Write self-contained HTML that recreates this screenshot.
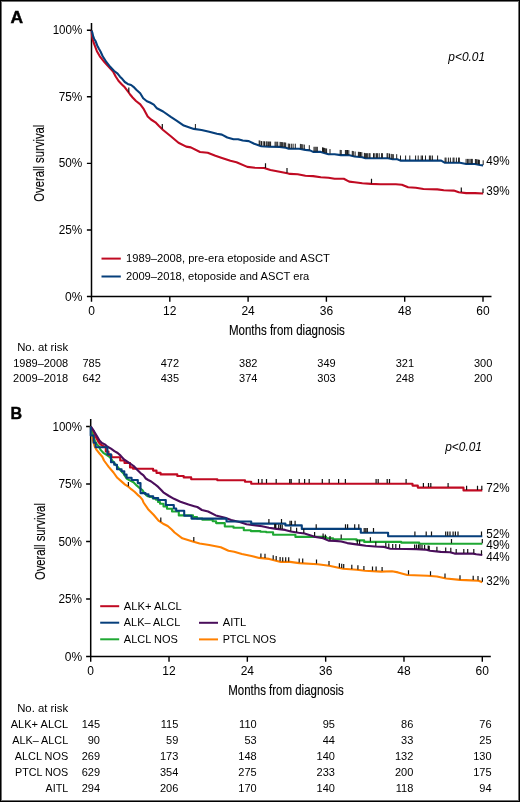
<!DOCTYPE html>
<html><head><meta charset="utf-8"><style>
html,body{margin:0;padding:0;background:#fff;}
#f{position:relative;width:520px;height:802px;box-sizing:border-box;border:1px solid #000;box-shadow:inset 0 0 0 1px #707070;overflow:hidden;background:#fff;}
svg{position:absolute;left:-1px;top:-1px;will-change:transform;}
text{font-family:"Liberation Sans",sans-serif;fill:#000;}
.th{stroke:#000;stroke-width:0.15px;}
</style></head><body><div id="f"><svg width="520" height="802" viewBox="0 0 520 802">
<path d="M91.5,23.0 V296.5 H491.5" fill="none" stroke="#000" stroke-width="1.5"/>
<path d="M91.50,296.5 v5.2 M169.80,296.5 v5.2 M248.10,296.5 v5.2 M326.40,296.5 v5.2 M404.70,296.5 v5.2 M483.00,296.5 v5.2 M91.5,296.50 h-4.6 M91.5,229.94 h-4.6 M91.5,163.38 h-4.6 M91.5,96.81 h-4.6 M91.5,30.25 h-4.6 " fill="none" stroke="#000" stroke-width="1.4"/>
<path d="M91.6,30.6 L92.0,35.5 L92.7,39.5 L93.6,42.5 L94.9,45.8 L96.9,51.2 L99.8,56.3 L104.6,62.3 L109.4,67.6 L113.3,71.9 L115.7,76.5 L118.6,81.0 L121.9,84.4 L124.8,87.3 L127.7,91.2 L130.1,94.5 L132.6,97.5 L136.0,101.0 L140.3,104.4 L143.8,109.2 L147.7,116.4 L151.0,119.5 L155.4,122.3 L159.0,126.0 L163.1,130.0 L170.8,136.2 L178.5,142.8 L186.2,146.6 L190.8,147.4 L200.0,152.0 L207.7,152.8 L215.4,155.8 L221.2,157.7 L230.4,160.8 L236.5,162.3 L247.3,166.9 L255.0,167.7 L264.2,168.0 L270.4,170.0 L279.6,171.8 L287.3,173.3 L290.0,173.9 L297.7,174.2 L305.4,175.8 L313.1,176.1 L320.8,177.3 L328.5,177.8 L334.6,178.8 L343.8,178.8 L349.2,181.6 L354.6,182.2 L362.3,183.2 L371.2,183.9 L380.4,184.2 L395.8,184.2 L401.9,184.7 L408.1,187.3 L415.8,187.8 L423.5,189.0 L437.3,189.4 L443.8,190.2 L453.8,190.6 L458.8,192.2 L466.2,193.1 L475.0,193.1 L483.2,193.5" fill="none" stroke="#c00a22" stroke-width="2.1" stroke-linejoin="round" />
<path d="M91.6,30.6 L92.3,32.5 L93.2,36.5 L94.2,39.0 L95.5,41.0 L97.2,45.4 L98.8,48.5 L100.5,51.5 L102.7,56.3 L106.5,62.2 L110.4,67.1 L114.2,71.0 L117.6,73.6 L120.0,76.7 L122.4,79.1 L124.8,82.0 L127.7,83.9 L131.1,85.0 L133.5,86.8 L136.3,89.7 L140.2,93.2 L143.2,98.2 L146.9,101.3 L150.0,102.5 L153.8,104.6 L156.9,108.3 L163.1,111.5 L170.8,116.9 L176.9,120.8 L183.8,125.6 L193.8,128.9 L201.5,130.0 L209.2,131.8 L216.9,133.8 L221.9,134.6 L227.3,137.5 L233.5,139.2 L238.1,139.2 L242.7,140.5 L248.8,141.1 L254.2,143.8 L261.2,146.2 L268.8,146.6 L279.6,146.9 L285.8,147.7 L288.8,148.8 L299.2,148.8 L305.4,149.9 L310.0,150.4 L313.1,151.9 L320.8,151.9 L328.5,154.2 L334.6,154.2 L340.8,155.1 L348.5,155.1 L354.6,156.5 L362.3,157.3 L365.4,158.3 L388.1,158.3 L392.7,159.3 L397.3,159.3 L400.4,160.6 L441.2,160.6 L445.0,162.8 L460.0,162.8 L466.2,164.0 L475.0,164.0 L480.0,165.0 L483.1,165.4" fill="none" stroke="#063f7b" stroke-width="2.1" stroke-linejoin="round" />
<path d="M128.8,92.2 v-4.6 M162.3,128.7 v-4.6 M265.5,167.9 v-4.6 M287.0,172.7 v-4.6 M371.5,183.4 v-4.6 M461.3,192.0 v-4.6 M483.0,193.0 v-4.6 " fill="none" stroke="#111" stroke-width="1.2"/>
<path d="M195.4,128.6 v-4.6 M259.2,145.0 v-4.6 M260.0,145.3 v-4.6 M261.5,145.7 v-4.6 M263.2,145.8 v-4.6 M264.5,145.9 v-4.6 M266.2,146.0 v-4.6 M267.1,146.0 v-4.6 M268.4,146.1 v-4.6 M269.7,146.1 v-4.6 M270.6,146.2 v-4.6 M275.1,146.3 v-4.6 M276.2,146.3 v-4.6 M277.7,146.3 v-4.6 M280.1,146.5 v-4.6 M281.0,146.6 v-4.6 M281.8,146.7 v-4.6 M282.7,146.8 v-4.6 M284.0,147.0 v-4.6 M284.8,147.1 v-4.6 M285.7,147.2 v-4.6 M288.3,148.1 v-4.6 M289.6,148.3 v-4.6 M291.3,148.3 v-4.6 M293.1,148.3 v-4.6 M295.3,148.3 v-4.6 M300.4,148.5 v-4.6 M301.7,148.7 v-4.6 M302.8,148.9 v-4.6 M304.3,149.2 v-4.6 M309.3,149.8 v-4.6 M314.0,151.4 v-4.6 M315.1,151.4 v-4.6 M316.2,151.4 v-4.6 M317.3,151.4 v-4.6 M322.5,151.9 v-4.6 M323.5,152.2 v-4.6 M324.6,152.5 v-4.6 M325.7,152.9 v-4.6 M326.6,153.1 v-4.6 M330.0,153.7 v-4.6 M340.2,154.5 v-4.6 M341.2,154.6 v-4.6 M345.4,154.6 v-4.6 M346.4,154.6 v-4.6 M347.5,154.6 v-4.6 M348.8,154.7 v-4.6 M352.3,155.5 v-4.6 M353.3,155.7 v-4.6 M355.1,156.1 v-4.6 M358.4,156.4 v-4.6 M359.4,156.5 v-4.6 M360.5,156.6 v-4.6 M361.8,156.7 v-4.6 M364.4,157.5 v-4.6 M365.4,157.8 v-4.6 M366.6,157.8 v-4.6 M367.7,157.8 v-4.6 M369.2,157.8 v-4.6 M370.0,157.8 v-4.6 M373.5,157.8 v-4.6 M374.8,157.8 v-4.6 M376.4,157.8 v-4.6 M377.4,157.8 v-4.6 M379.2,157.8 v-4.6 M381.6,157.8 v-4.6 M382.4,157.8 v-4.6 M387.1,157.8 v-4.6 M387.9,157.8 v-4.6 M389.5,158.1 v-4.6 M391.2,158.5 v-4.6 M392.2,158.7 v-4.6 M393.3,158.8 v-4.6 M396.7,158.8 v-4.6 M400.5,160.1 v-4.6 M405.6,160.1 v-4.6 M409.8,160.1 v-4.6 M415.6,160.1 v-4.6 M418.2,160.1 v-4.6 M421.2,160.1 v-4.6 M422.5,160.1 v-4.6 M425.5,160.1 v-4.6 M429.4,160.1 v-4.6 M430.7,160.1 v-4.6 M432.4,160.1 v-4.6 M437.6,160.1 v-4.6 M445.1,162.2 v-4.6 M446.0,162.2 v-4.6 M448.4,162.2 v-4.6 M450.4,162.2 v-4.6 M453.1,162.2 v-4.6 M454.0,162.2 v-4.6 M456.4,162.2 v-4.6 M458.6,162.2 v-4.6 M459.3,162.2 v-4.6 M466.1,163.5 v-4.6 M467.6,163.5 v-4.6 M468.8,163.5 v-4.6 M470.1,163.5 v-4.6 M471.4,163.5 v-4.6 M472.3,163.5 v-4.6 M475.4,163.6 v-4.6 M476.3,163.8 v-4.6 M477.2,163.9 v-4.6 M478.5,164.2 v-4.6 M479.4,164.4 v-4.6 M483.2,164.9 v-4.6 " fill="none" stroke="#111" stroke-width="0.95"/>
<path d="M90.7,419.0 V656.5 H490.8" fill="none" stroke="#000" stroke-width="1.5"/>
<path d="M90.70,656.5 v5.2 M169.02,656.5 v5.2 M247.34,656.5 v5.2 M325.66,656.5 v5.2 M403.98,656.5 v5.2 M482.30,656.5 v5.2 M90.7,656.50 h-4.6 M90.7,599.00 h-4.6 M90.7,541.50 h-4.6 M90.7,484.00 h-4.6 M90.7,426.50 h-4.6 " fill="none" stroke="#000" stroke-width="1.4"/>
<path d="M90.7,426.5 L91.3,432.6 L92.7,439.3 L94.7,446.5 L96.6,449.9 L99.5,453.5 L102.3,456.8 L104.0,460.5 L106.2,463.5 L108.7,466.9 L113.5,472.5 L117.3,477.8 L122.0,481.9 L125.1,484.6 L128.2,486.5 L131.2,489.2 L134.3,491.5 L137.4,494.6 L140.5,497.3 L142.4,499.6 L143.5,502.5 L148.1,509.2 L153.8,515.0 L158.5,520.6 L163.1,523.7 L167.7,526.0 L171.7,529.5 L174.6,532.5 L182.3,538.3 L191.9,541.2 L199.6,543.5 L209.2,545.0 L220.8,547.3 L228.5,550.8 L234.2,551.7 L241.9,554.0 L251.5,556.0 L259.2,557.9 L269.2,558.9 L280.8,561.9 L290.0,561.9 L299.2,563.1 L317.7,564.2 L329.2,565.8 L343.1,568.8 L356.9,569.8 L365.0,570.7 L381.0,571.6 L392.0,571.3 L398.0,572.4 L407.3,575.0 L427.7,575.8 L436.9,576.5 L446.2,578.5 L460.0,579.9 L471.5,580.4 L478.5,580.8 L482.3,582.2" fill="none" stroke="#ff8000" stroke-width="2.1" stroke-linejoin="round" />
<path d="M90.7,426.5 L92.0,431.0 L93.2,435.0 L95.0,441.0 L97.0,444.5 L99.0,446.5 L100.4,449.6 L103.3,452.8 L106.2,454.7 L109.1,456.6 L111.0,458.5 L112.9,461.4 L115.8,464.8 L118.7,468.2 L121.6,471.5 L123.5,473.5 L125.1,476.2 L126.6,478.5 L129.7,480.4 L133.5,482.3 L136.6,485.4 L139.7,488.1 L142.4,490.0 L144.3,493.1 L146.6,495.4 L147.5,495.4 L147.5,496.2 L149.7,496.2 L149.7,496.9 L152.8,496.9 L152.8,498.5 L155.8,498.5 L155.8,499.6 L158.0,499.6 L158.0,502.0 L160.0,502.0 L160.0,503.8 L163.5,503.8 L163.5,506.5 L167.0,506.5 L167.0,508.8 L172.0,508.8 L172.0,511.5 L178.8,511.5 L178.8,515.4 L193.0,515.4 L193.0,517.0 L197.0,517.0 L197.0,518.5 L202.3,518.5 L202.3,519.8 L212.7,519.8 L212.7,521.3 L216.1,521.3 L216.1,523.1 L224.8,523.1 L224.8,526.5 L233.5,526.5 L233.5,527.7 L243.8,527.7 L243.8,530.2 L250.8,530.2 L250.8,531.1 L260.4,531.1 L260.4,531.7 L266.2,531.7 L266.2,532.3 L273.1,532.3 L273.1,534.7 L295.4,534.7 L295.4,536.9 L326.2,536.9 L326.2,538.3 L333.1,538.3 L333.1,539.2 L356.5,539.2 L356.5,540.4 L364.2,540.4 L364.2,541.9 L401.2,541.9 L401.2,542.6 L419.2,542.6 L419.2,543.8 L482.3,543.8" fill="none" stroke="#1fa833" stroke-width="2.1" stroke-linejoin="round" />
<path d="M90.7,426.5 L93.5,431.0 L95.6,436.4 L98.5,442.0 L100.4,444.4 L103.0,446.0 L105.8,447.7 L105.8,451.5 L108.5,451.5 L108.5,455.0 L111.5,455.0 L111.5,457.3 L120.2,457.3 L120.2,460.5 L124.5,460.5 L124.5,463.0 L130.0,463.0 L130.0,467.4 L133.0,467.4 L133.0,468.8 L153.1,468.8 L153.1,470.6 L156.5,470.6 L156.5,472.9 L160.6,472.9 L160.6,474.4 L177.3,474.4 L177.3,476.0 L183.7,476.0 L183.7,477.4 L191.2,477.4 L191.2,479.2 L217.3,479.2 L217.3,480.3 L245.0,480.3 L245.0,481.8 L251.2,481.8 L251.2,483.7 L412.5,483.7 L412.5,485.6 L417.8,485.6 L417.8,487.6 L463.5,487.6 L463.5,490.4 L482.3,490.4" fill="none" stroke="#c00a22" stroke-width="2.1" stroke-linejoin="round" />
<path d="M90.7,426.5 L91.5,427.5 L93.7,430.7 L96.6,435.5 L99.5,440.6 L101.9,443.0 L104.8,444.4 L107.6,446.8 L111.0,448.6 L114.4,451.1 L117.7,453.0 L120.6,455.6 L124.0,459.5 L128.8,462.6 L133.7,466.0 L137.4,470.0 L140.5,473.1 L143.5,475.4 L145.8,478.5 L148.2,480.0 L151.2,481.5 L154.3,483.8 L158.2,486.9 L161.2,490.0 L163.3,492.3 L169.0,496.0 L174.0,498.8 L180.4,501.7 L188.5,504.6 L194.2,506.2 L197.3,507.0 L201.9,510.0 L208.1,511.5 L215.8,515.4 L225.0,517.7 L231.2,520.0 L240.4,522.3 L246.5,524.3 L255.8,525.4 L262.0,526.2 L268.9,527.7 L274.7,528.6 L285.1,529.9 L290.8,531.5 L298.5,532.8 L304.6,533.5 L310.8,535.4 L315.4,536.9 L323.1,538.2 L328.5,540.6 L335.0,540.9 L341.2,541.5 L347.3,543.1 L358.1,544.6 L365.8,545.7 L375.0,546.5 L384.2,546.9 L390.4,548.7 L405.8,549.0 L416.2,549.1 L425.4,549.6 L430.0,550.7 L440.8,551.9 L450.0,552.2 L454.6,553.6 L473.1,553.6 L476.2,554.2 L482.3,555.0" fill="none" stroke="#4a0e5b" stroke-width="2.1" stroke-linejoin="round" />
<path d="M90.7,426.5 L90.7,435.5 L93.7,435.5 L93.7,442.7 L95.6,442.7 L95.6,447.3 L107.4,447.3 L107.4,454.2 L111.0,454.2 L111.0,462.2 L114.2,462.2 L114.2,464.8 L117.0,464.8 L117.0,469.3 L121.6,469.3 L121.6,471.2 L124.3,471.2 L124.3,474.6 L126.6,474.6 L126.6,477.7 L131.6,477.7 L131.6,480.0 L137.8,480.0 L137.8,483.1 L140.5,483.1 L140.5,493.1 L145.5,493.1 L145.5,494.3 L148.5,494.3 L148.5,496.2 L153.2,496.2 L153.2,498.1 L158.2,498.1 L158.2,500.0 L165.8,500.0 L165.8,505.0 L173.8,505.0 L173.8,508.5 L176.2,508.5 L176.2,510.8 L184.2,510.8 L184.2,515.8 L191.5,515.8 L191.5,518.6 L226.5,518.6 L226.5,521.5 L251.2,521.5 L251.2,523.6 L285.4,523.6 L285.4,525.4 L301.8,525.4 L301.8,528.9 L360.8,528.9 L360.8,532.8 L388.1,532.8 L388.1,536.2 L482.3,536.2" fill="none" stroke="#063f7b" stroke-width="2.1" stroke-linejoin="round" />
<path d="M258.5,483.2 v-4.2 M262.0,483.2 v-4.2 M266.5,483.2 v-4.2 M276.2,483.2 v-4.2 M289.7,483.2 v-4.2 M291.2,483.2 v-4.2 M299.2,483.2 v-4.2 M304.6,483.2 v-4.2 M309.2,483.2 v-4.2 M322.3,483.2 v-4.2 M329.2,483.2 v-4.2 M338.6,483.2 v-4.2 M345.4,483.2 v-4.2 M376.1,483.2 v-4.2 M378.2,483.2 v-4.2 M387.2,483.2 v-4.2 M389.5,483.2 v-4.2 M406.1,483.2 v-4.2 M423.4,487.1 v-4.2 M428.5,487.1 v-4.2 M430.8,487.1 v-4.2 M448.1,487.1 v-4.2 M466.6,489.9 v-4.2 M477.5,489.9 v-4.2 M481.8,489.9 v-4.2 " fill="none" stroke="#111" stroke-width="1.2"/>
<path d="M268.9,523.1 v-4.2 M281.5,523.1 v-4.2 M290.0,524.9 v-4.2 M291.5,524.9 v-4.2 M295.1,524.9 v-4.2 M316.2,528.4 v-4.2 M345.5,528.4 v-4.2 M347.6,528.4 v-4.2 M354.7,528.4 v-4.2 M358.8,528.4 v-4.2 M364.2,532.3 v-4.2 M365.8,532.3 v-4.2 M367.3,532.3 v-4.2 M373.5,532.3 v-4.2 M414.9,535.7 v-4.2 M426.2,535.7 v-4.2 M431.5,535.7 v-4.2 M445.7,535.7 v-4.2 M447.7,535.7 v-4.2 M450.0,535.7 v-4.2 M453.1,535.7 v-4.2 M455.4,535.7 v-4.2 M458.0,535.7 v-4.2 M481.5,535.7 v-4.2 " fill="none" stroke="#111" stroke-width="1.2"/>
<path d="M341.2,538.7 v-4.2 M370.4,541.4 v-4.2 M451.5,543.3 v-4.2 M482.3,543.3 v-4.2 " fill="none" stroke="#111" stroke-width="1.2"/>
<path d="M274.7,528.1 v-4.2 M275.8,528.2 v-4.2 M278.7,528.6 v-4.2 M280.5,528.8 v-4.2 M282.2,529.0 v-4.2 M290.8,531.0 v-4.2 M296.6,532.0 v-4.2 M303.8,532.9 v-4.2 M314.6,536.1 v-4.2 M323.1,537.7 v-4.2 M325.4,538.7 v-4.2 M330.0,540.2 v-4.2 M357.3,544.0 v-4.2 M359.6,544.3 v-4.2 M375.8,546.0 v-4.2 M385.8,546.9 v-4.2 M388.8,547.7 v-4.2 M392.7,548.2 v-4.2 M395.8,548.3 v-4.2 M399.6,548.4 v-4.2 M414.6,548.6 v-4.2 M416.5,548.6 v-4.2 M418.5,548.7 v-4.2 M420.0,548.8 v-4.2 M422.0,548.9 v-4.2 M424.6,549.1 v-4.2 M428.2,549.8 v-4.2 M429.2,550.0 v-4.2 M436.9,551.0 v-4.2 M445.7,551.6 v-4.2 M450.8,551.9 v-4.2 M456.2,553.1 v-4.2 M463.8,553.1 v-4.2 M467.7,553.1 v-4.2 M473.8,553.2 v-4.2 M481.5,554.4 v-4.2 " fill="none" stroke="#111" stroke-width="1.2"/>
<path d="M128.4,486.2 v-4.2 M160.8,521.7 v-4.2 M193.8,541.3 v-4.2 M260.9,557.6 v-4.2 M265.0,558.0 v-4.2 M273.2,559.4 v-4.2 M276.2,560.2 v-4.2 M280.1,561.2 v-4.2 M282.7,561.4 v-4.2 M285.7,561.4 v-4.2 M288.7,561.4 v-4.2 M299.2,562.6 v-4.2 M302.7,562.8 v-4.2 M316.5,563.6 v-4.2 M329.0,565.3 v-4.2 M339.4,567.5 v-4.2 M341.7,568.0 v-4.2 M343.7,568.3 v-4.2 M351.8,568.9 v-4.2 M357.9,569.4 v-4.2 M363.9,570.1 v-4.2 M372.5,570.6 v-4.2 M376.1,570.8 v-4.2 M382.1,571.1 v-4.2 M408.5,574.5 v-4.2 M430.5,575.5 v-4.2 M445.0,577.7 v-4.2 M460.0,579.4 v-4.2 M473.2,580.0 v-4.2 M478.0,580.3 v-4.2 M482.4,581.7 v-4.2 " fill="none" stroke="#111" stroke-width="1.2"/>
<text x="10.4" y="22.6" font-size="17.2" text-anchor="start" textLength="12.6" lengthAdjust="spacingAndGlyphs" font-weight="bold" stroke="#000" stroke-width="0.45">A</text>
<text x="10.6" y="418.6" font-size="17.2" text-anchor="start" textLength="11.6" lengthAdjust="spacingAndGlyphs" font-weight="bold" stroke="#000" stroke-width="0.45">B</text>
<text x="82.3" y="300.6" font-size="12" text-anchor="end" >0%</text>
<text x="82.3" y="234.04" font-size="12" text-anchor="end" textLength="23.6" lengthAdjust="spacingAndGlyphs" >25%</text>
<text x="82.3" y="167.47" font-size="12" text-anchor="end" textLength="23.6" lengthAdjust="spacingAndGlyphs" >50%</text>
<text x="82.3" y="100.91" font-size="12" text-anchor="end" textLength="23.6" lengthAdjust="spacingAndGlyphs" >75%</text>
<text x="82.3" y="34.35" font-size="12" text-anchor="end" textLength="29.6" lengthAdjust="spacingAndGlyphs" >100%</text>
<text x="82.1" y="660.6" font-size="12" text-anchor="end" >0%</text>
<text x="82.1" y="603.1" font-size="12" text-anchor="end" textLength="23.6" lengthAdjust="spacingAndGlyphs" >25%</text>
<text x="82.1" y="545.6" font-size="12" text-anchor="end" textLength="23.6" lengthAdjust="spacingAndGlyphs" >50%</text>
<text x="82.1" y="488.1" font-size="12" text-anchor="end" textLength="23.6" lengthAdjust="spacingAndGlyphs" >75%</text>
<text x="82.1" y="430.6" font-size="12" text-anchor="end" textLength="29.6" lengthAdjust="spacingAndGlyphs" >100%</text>
<text x="91.5" y="315.2" font-size="12" text-anchor="middle" >0</text>
<text x="169.8" y="315.2" font-size="12" text-anchor="middle" >12</text>
<text x="248.1" y="315.2" font-size="12" text-anchor="middle" >24</text>
<text x="326.4" y="315.2" font-size="12" text-anchor="middle" >36</text>
<text x="404.7" y="315.2" font-size="12" text-anchor="middle" >48</text>
<text x="483.0" y="315.2" font-size="12" text-anchor="middle" >60</text>
<text x="90.7" y="675.0" font-size="12" text-anchor="middle" >0</text>
<text x="169.02" y="675.0" font-size="12" text-anchor="middle" >12</text>
<text x="247.34" y="675.0" font-size="12" text-anchor="middle" >24</text>
<text x="325.66" y="675.0" font-size="12" text-anchor="middle" >36</text>
<text x="403.98" y="675.0" font-size="12" text-anchor="middle" >48</text>
<text x="482.3" y="675.0" font-size="12" text-anchor="middle" >60</text>
<text x="286.9" y="335.2" font-size="14.4" text-anchor="middle" textLength="116" lengthAdjust="spacingAndGlyphs" class="th">Months from diagnosis</text>
<text x="286.0" y="695.0" font-size="14.4" text-anchor="middle" textLength="115.5" lengthAdjust="spacingAndGlyphs" class="th">Months from diagnosis</text>
<text x="0" y="0" font-size="14.4" text-anchor="middle" textLength="77" lengthAdjust="spacingAndGlyphs" class="th" transform="translate(44.3,163.2) rotate(-90)">Overall survival</text>
<text x="0" y="0" font-size="14.4" text-anchor="middle" textLength="77" lengthAdjust="spacingAndGlyphs" class="th" transform="translate(44.6,541.6) rotate(-90)">Overall survival</text>
<text x="448.3" y="60.9" font-size="12.6" text-anchor="start" textLength="36.8" lengthAdjust="spacingAndGlyphs" font-style="italic" >p&lt;0.01</text>
<text x="445.2" y="451.4" font-size="12.6" text-anchor="start" textLength="36.8" lengthAdjust="spacingAndGlyphs" font-style="italic" >p&lt;0.01</text>
<text x="486.3" y="165.0" font-size="12.2" text-anchor="start" textLength="23.4" lengthAdjust="spacingAndGlyphs" >49%</text>
<text x="486.3" y="195.2" font-size="12.2" text-anchor="start" textLength="23.4" lengthAdjust="spacingAndGlyphs" >39%</text>
<text x="486.3" y="491.8" font-size="12.2" text-anchor="start" textLength="23.4" lengthAdjust="spacingAndGlyphs" >72%</text>
<text x="486.3" y="538.0" font-size="12.2" text-anchor="start" textLength="23.4" lengthAdjust="spacingAndGlyphs" >52%</text>
<text x="486.3" y="548.9" font-size="12.2" text-anchor="start" textLength="23.4" lengthAdjust="spacingAndGlyphs" >49%</text>
<text x="486.3" y="560.7" font-size="12.2" text-anchor="start" textLength="23.4" lengthAdjust="spacingAndGlyphs" >44%</text>
<text x="486.3" y="585.4" font-size="12.2" text-anchor="start" textLength="23.4" lengthAdjust="spacingAndGlyphs" >32%</text>
<path d="M101.5,258.6 H120.8" fill="none" stroke="#c00a22" stroke-width="2" stroke-linejoin="round" />
<path d="M101.5,276.5 H120.8" fill="none" stroke="#063f7b" stroke-width="2" stroke-linejoin="round" />
<text x="126.0" y="262.3" font-size="11.4" text-anchor="start" textLength="203.8" lengthAdjust="spacingAndGlyphs" >1989–2008, pre-era etoposide and ASCT</text>
<text x="126.0" y="279.9" font-size="11.4" text-anchor="start" textLength="183.3" lengthAdjust="spacingAndGlyphs" >2009–2018, etoposide and ASCT era</text>
<path d="M100.2,606.2 H119.2" fill="none" stroke="#c00a22" stroke-width="2" stroke-linejoin="round" />
<path d="M100.2,622.7 H119.2" fill="none" stroke="#063f7b" stroke-width="2" stroke-linejoin="round" />
<path d="M100.2,639.3 H119.2" fill="none" stroke="#1fa833" stroke-width="2" stroke-linejoin="round" />
<path d="M199,622.8 H218" fill="none" stroke="#4a0e5b" stroke-width="2" stroke-linejoin="round" />
<path d="M199,639.4 H218" fill="none" stroke="#ff8000" stroke-width="2" stroke-linejoin="round" />
<text x="123.8" y="610.2" font-size="11.2" text-anchor="start" textLength="58" lengthAdjust="spacingAndGlyphs" >ALK+ ALCL</text>
<text x="123.8" y="626.4" font-size="11.2" text-anchor="start" textLength="56.4" lengthAdjust="spacingAndGlyphs" >ALK– ALCL</text>
<text x="123.8" y="642.7" font-size="11.2" text-anchor="start" textLength="54" lengthAdjust="spacingAndGlyphs" >ALCL NOS</text>
<text x="222.7" y="626.0" font-size="11.2" text-anchor="start" textLength="23.6" lengthAdjust="spacingAndGlyphs" >AITL</text>
<text x="222.7" y="642.5" font-size="11.2" text-anchor="start" textLength="53.5" lengthAdjust="spacingAndGlyphs" >PTCL NOS</text>
<text x="68.2" y="351.0" font-size="11.2" text-anchor="end" textLength="51" lengthAdjust="spacingAndGlyphs" >No. at risk</text>
<text x="68.2" y="366.5" font-size="11.2" text-anchor="end" textLength="55.0" lengthAdjust="spacingAndGlyphs" >1989–2008</text>
<text x="100.8" y="366.5" font-size="11" text-anchor="end" >785</text>
<text x="179.1" y="366.5" font-size="11" text-anchor="end" >472</text>
<text x="257.4" y="366.5" font-size="11" text-anchor="end" >382</text>
<text x="335.7" y="366.5" font-size="11" text-anchor="end" >349</text>
<text x="414.0" y="366.5" font-size="11" text-anchor="end" >321</text>
<text x="492.3" y="366.5" font-size="11" text-anchor="end" >300</text>
<text x="68.2" y="382.0" font-size="11.2" text-anchor="end" textLength="55.2" lengthAdjust="spacingAndGlyphs" >2009–2018</text>
<text x="100.8" y="382.0" font-size="11" text-anchor="end" >642</text>
<text x="179.1" y="382.0" font-size="11" text-anchor="end" >435</text>
<text x="257.4" y="382.0" font-size="11" text-anchor="end" >374</text>
<text x="335.7" y="382.0" font-size="11" text-anchor="end" >303</text>
<text x="414.0" y="382.0" font-size="11" text-anchor="end" >248</text>
<text x="492.3" y="382.0" font-size="11" text-anchor="end" >200</text>
<text x="68.2" y="712.2" font-size="11.2" text-anchor="end" textLength="51" lengthAdjust="spacingAndGlyphs" >No. at risk</text>
<text x="68.2" y="727.7" font-size="11.2" text-anchor="end" textLength="57.5" lengthAdjust="spacingAndGlyphs" >ALK+ ALCL</text>
<text x="100.0" y="727.7" font-size="11" text-anchor="end" >145</text>
<text x="178.32" y="727.7" font-size="11" text-anchor="end" >115</text>
<text x="256.64" y="727.7" font-size="11" text-anchor="end" >110</text>
<text x="334.96" y="727.7" font-size="11" text-anchor="end" >95</text>
<text x="413.28" y="727.7" font-size="11" text-anchor="end" >86</text>
<text x="491.6" y="727.7" font-size="11" text-anchor="end" >76</text>
<text x="68.2" y="743.6" font-size="11.2" text-anchor="end" textLength="56" lengthAdjust="spacingAndGlyphs" >ALK– ALCL</text>
<text x="100.0" y="743.6" font-size="11" text-anchor="end" >90</text>
<text x="178.32" y="743.6" font-size="11" text-anchor="end" >59</text>
<text x="256.64" y="743.6" font-size="11" text-anchor="end" >53</text>
<text x="334.96" y="743.6" font-size="11" text-anchor="end" >44</text>
<text x="413.28" y="743.6" font-size="11" text-anchor="end" >33</text>
<text x="491.6" y="743.6" font-size="11" text-anchor="end" >25</text>
<text x="68.2" y="759.6" font-size="11.2" text-anchor="end" textLength="53.5" lengthAdjust="spacingAndGlyphs" >ALCL NOS</text>
<text x="100.0" y="759.6" font-size="11" text-anchor="end" >269</text>
<text x="178.32" y="759.6" font-size="11" text-anchor="end" >173</text>
<text x="256.64" y="759.6" font-size="11" text-anchor="end" >148</text>
<text x="334.96" y="759.6" font-size="11" text-anchor="end" >140</text>
<text x="413.28" y="759.6" font-size="11" text-anchor="end" >132</text>
<text x="491.6" y="759.6" font-size="11" text-anchor="end" >130</text>
<text x="68.2" y="775.5" font-size="11.2" text-anchor="end" textLength="53.2" lengthAdjust="spacingAndGlyphs" >PTCL NOS</text>
<text x="100.0" y="775.5" font-size="11" text-anchor="end" >629</text>
<text x="178.32" y="775.5" font-size="11" text-anchor="end" >354</text>
<text x="256.64" y="775.5" font-size="11" text-anchor="end" >275</text>
<text x="334.96" y="775.5" font-size="11" text-anchor="end" >233</text>
<text x="413.28" y="775.5" font-size="11" text-anchor="end" >200</text>
<text x="491.6" y="775.5" font-size="11" text-anchor="end" >175</text>
<text x="68.2" y="791.5" font-size="11.2" text-anchor="end" textLength="22.6" lengthAdjust="spacingAndGlyphs" >AITL</text>
<text x="100.0" y="791.5" font-size="11" text-anchor="end" >294</text>
<text x="178.32" y="791.5" font-size="11" text-anchor="end" >206</text>
<text x="256.64" y="791.5" font-size="11" text-anchor="end" >170</text>
<text x="334.96" y="791.5" font-size="11" text-anchor="end" >140</text>
<text x="413.28" y="791.5" font-size="11" text-anchor="end" >118</text>
<text x="491.6" y="791.5" font-size="11" text-anchor="end" >94</text>
</svg></div></body></html>
